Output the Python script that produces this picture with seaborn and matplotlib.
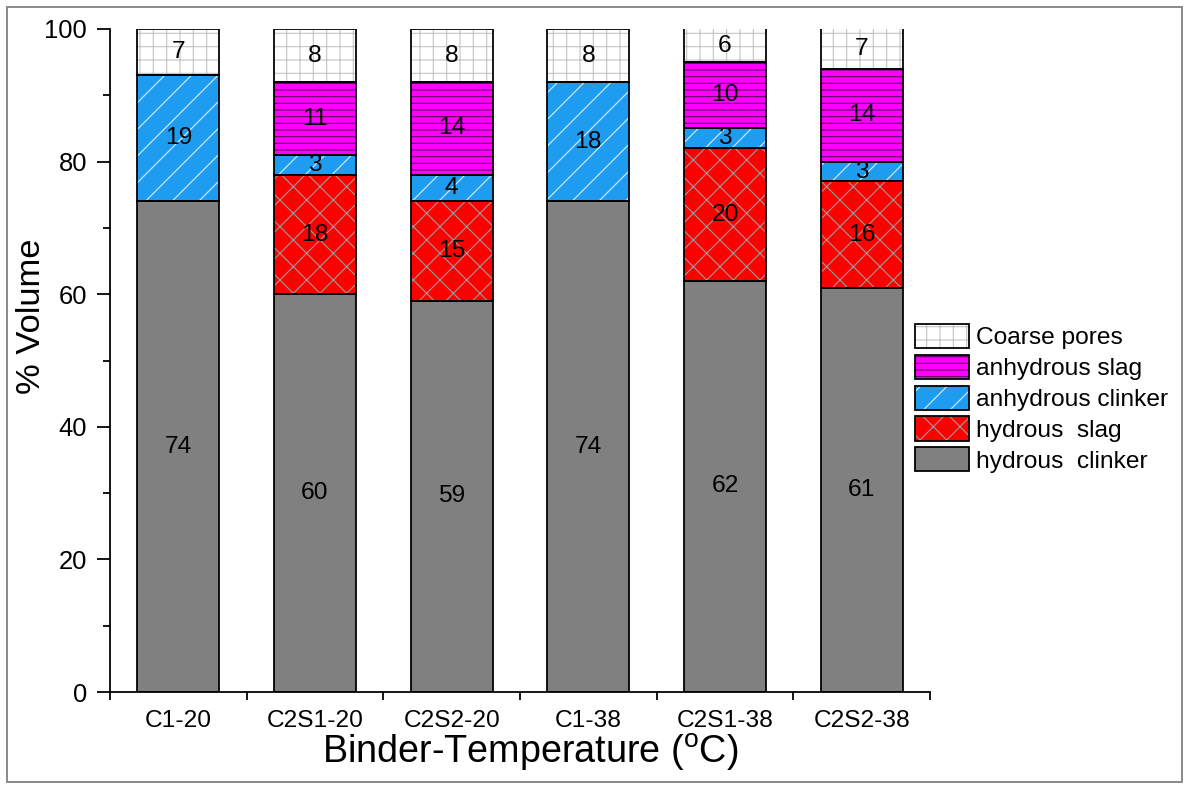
import numpy as np
import pandas as pd
import matplotlib
matplotlib.use("Agg")
import matplotlib.pyplot as plt
import seaborn as sns
from matplotlib.patches import Patch, Rectangle
from matplotlib.legend_handler import HandlerTuple
from matplotlib.ticker import MultipleLocator, FixedLocator, NullFormatter

# Volume fractions (%) per binder and curing temperature
binders = ["C1-20", "C2S1-20", "C2S2-20", "C1-38", "C2S1-38", "C2S2-38"]
hydrous_clinker = [74, 60, 59, 74, 62, 61]
hydrous_slag = [0, 18, 15, 0, 20, 16]
anhydrous_clinker = [19, 3, 4, 18, 3, 3]
anhydrous_slag = [0, 11, 14, 0, 10, 14]
coarse_pores = [7, 8, 8, 8, 6, 7]

# stacking order (bottom to top): label, values, face colour, hatch, hatch colour
layers = [
    ("hydrous  clinker", hydrous_clinker, "#808080", None, "#808080"),
    ("hydrous  slag", hydrous_slag, "#FF0000", "x", "#9C9C9C"),
    ("anhydrous clinker", anhydrous_clinker, "#1E9CF0", "/", "#D8F0FF"),
    ("anhydrous slag", anhydrous_slag, "#FF00FF", "--", "#600060"),
    ("Coarse pores", coarse_pores, "#FFFFFF", "+", "#C4C4C4"),
]

sns.set_style("ticks")
plt.rcParams["font.family"] = ["Liberation Sans", "DejaVu Sans"]
plt.rcParams["mathtext.fontset"] = "custom"
plt.rcParams["mathtext.rm"] = "Liberation Sans"
plt.rcParams["hatch.linewidth"] = 1.0
for key in ("text.color", "axes.labelcolor", "xtick.color", "ytick.color",
            "xtick.labelcolor", "ytick.labelcolor"):
    plt.rcParams[key] = "black"

DPI = 80
fig = plt.figure(figsize=(1189 / DPI, 789 / DPI), dpi=DPI)
ax = fig.add_axes([110 / 1189, 1 - 692 / 789, 820 / 1189, 663 / 789])

bottom = np.zeros(len(binders))
for name, vals, fc, hatch, hc in layers:
    df = pd.DataFrame({"binder": binders, "value": vals})
    sns.barplot(data=df, x="binder", y="value", order=binders, color=fc,
                saturation=1, width=0.6, bottom=bottom, hatch=hatch,
                edgecolor=hc, linewidth=0, errorbar=None, ax=ax, zorder=2)
    filled = ax.containers[-1]
    sns.barplot(data=df, x="binder", y="value", order=binders, color=fc,
                saturation=1, width=0.6, bottom=bottom, facecolor="none",
                edgecolor="black", linewidth=1.6, errorbar=None, ax=ax,
                zorder=3)
    ax.bar_label(filled, labels=[str(v) if v > 0 else "" for v in vals],
                 label_type="center", fontsize=22, color="black", zorder=4)
    bottom = bottom + np.array(vals)

ax.set_ylim(0, 100)
ax.set_xlim(-0.5, len(binders) - 0.5)
ax.yaxis.set_major_locator(MultipleLocator(20))
ax.yaxis.set_minor_locator(MultipleLocator(10))
ax.xaxis.set_minor_locator(FixedLocator(np.arange(-0.5, len(binders), 1.0)))
ax.xaxis.set_minor_formatter(NullFormatter())

ax.tick_params(axis="y", which="major", direction="out", length=11.5,
               width=1.6, labelsize=23, pad=9, color="black")
ax.tick_params(axis="y", which="minor", direction="out", length=6,
               width=1.6, color="black")
ax.tick_params(axis="x", which="major", length=0, labelsize=22, pad=16)
ax.tick_params(axis="x", which="minor", direction="out", length=7,
               width=1.6, color="black")

for side in ("top", "right"):
    ax.spines[side].set_visible(False)
for side in ("left", "bottom"):
    ax.spines[side].set_linewidth(1.6)
    ax.spines[side].set_color("black")
    ax.spines[side].set_zorder(5)

ax.set_xlabel(r"Binder-Temperature ($^{\mathrm{o}}$C)", fontsize=34)
ax.set_ylabel("% Volume", fontsize=31)
ax.xaxis.set_label_coords(0.512, -0.060)
ax.yaxis.set_label_coords(-0.077, 0.567)

# legend: hatched swatch with a black outline, top entry first
handles, labels = [], []
for name, vals, fc, hatch, hc in reversed(layers):
    swatch = Patch(facecolor=fc, edgecolor=hc, hatch=hatch, linewidth=0)
    outline = Patch(facecolor="none", edgecolor="black", linewidth=1.6)
    handles.append((swatch, outline))
    labels.append(name)
fig.legend(handles, labels,
           handler_map={tuple: HandlerTuple(ndivide=1, pad=0)},
           loc="upper left", bbox_to_anchor=(915 / 1189, 1 - 324 / 789),
           frameon=False, fontsize=22, borderpad=0, borderaxespad=0,
           handlelength=2.2, handleheight=1.15, labelspacing=0.22,
           handletextpad=0.3)

# thin grey frame around the whole figure
fig.patches.append(Rectangle((7 / 1189, 7 / 789), 1175 / 1189, 775 / 789,
                             transform=fig.transFigure, fill=False,
                             edgecolor="#8C8C8C", linewidth=1.8))

fig.savefig("out.png", dpi=DPI)
